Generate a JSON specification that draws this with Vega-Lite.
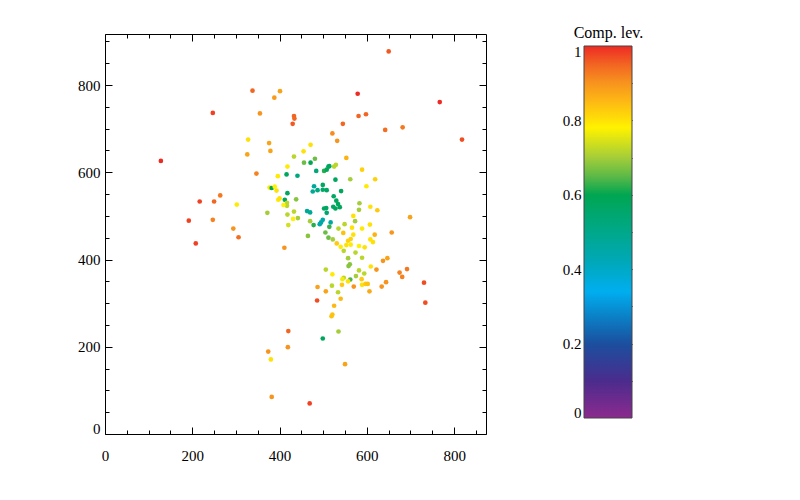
{
  "$schema": "https://vega.github.io/schema/vega-lite/v6.json",
  "padding": {"left": 77, "top": 24, "right": 5, "bottom": 5},
  "background": "white",
  "bounds": "flush",
  "spacing": 98,
  "config": {
    "font": "Liberation Serif",
    "view": {"stroke": null},
    "axis": {"labelFont": "Liberation Serif", "labelFontSize": 15, "labelColor": "black", "tickColor": "black", "tickWidth": 1, "domainColor": "black", "grid": false, "title": null, "zindex": 1}
  },
  "hconcat": [
    {
      "width": 381,
      "height": 400,
      "view": {"stroke": "black", "strokeWidth": 1},
      "data": {"values": [
        {"x":650,"y":877,"c":0.96},{"x":338,"y":787,"c":0.95},{"x":401,"y":786,"c":0.88},{"x":388,"y":771,"c":0.89},
        {"x":579,"y":780,"c":1.0},{"x":767,"y":761,"c":1.0},{"x":247,"y":736,"c":0.98},{"x":355,"y":735,"c":0.9},
        {"x":433,"y":729,"c":0.95},{"x":434,"y":723,"c":0.95},{"x":430,"y":711,"c":0.96},{"x":581,"y":729,"c":0.95},
        {"x":598,"y":733,"c":0.95},{"x":545,"y":711,"c":0.95},{"x":642,"y":697,"c":0.94},{"x":682,"y":703,"c":0.93},
        {"x":818,"y":675,"c":0.97},{"x":521,"y":689,"c":0.91},{"x":532,"y":672,"c":0.9},{"x":328,"y":675,"c":0.8},
        {"x":376,"y":667,"c":0.88},{"x":379,"y":649,"c":0.88},{"x":326,"y":641,"c":0.88},{"x":471,"y":663,"c":0.8},
        {"x":455,"y":648,"c":0.8},{"x":433,"y":636,"c":0.72},{"x":456,"y":622,"c":0.66},{"x":471,"y":622,"c":0.6},
        {"x":481,"y":631,"c":0.66},{"x":553,"y":633,"c":0.86},{"x":128,"y":626,"c":1.0},{"x":347,"y":597,"c":0.92},
        {"x":418,"y":613,"c":0.79},{"x":416,"y":595,"c":0.58},{"x":441,"y":592,"c":0.52},{"x":396,"y":591,"c":0.79},
        {"x":484,"y":603,"c":0.53},{"x":502,"y":603,"c":0.62},{"x":508,"y":606,"c":0.58},{"x":512,"y":613,"c":0.58},
        {"x":514,"y":614,"c":0.58},{"x":525,"y":613,"c":0.72},{"x":529,"y":617,"c":0.72},{"x":589,"y":606,"c":0.82},
        {"x":562,"y":584,"c":0.7},{"x":528,"y":583,"c":0.58},{"x":619,"y":584,"c":0.82},{"x":599,"y":568,"c":0.79},
        {"x":479,"y":568,"c":0.47},{"x":499,"y":571,"c":0.57},{"x":476,"y":556,"c":0.48},{"x":487,"y":559,"c":0.52},
        {"x":499,"y":560,"c":0.56},{"x":508,"y":559,"c":0.57},{"x":541,"y":557,"c":0.58},{"x":377,"y":565,"c":0.79},
        {"x":382,"y":564,"c":0.6},{"x":389,"y":567,"c":0.78},{"x":393,"y":558,"c":0.8},{"x":418,"y":552,"c":0.58},
        {"x":524,"y":545,"c":0.57},{"x":530,"y":535,"c":0.58},{"x":534,"y":527,"c":0.58},{"x":538,"y":520,"c":0.58},
        {"x":528,"y":517,"c":0.58},{"x":523,"y":521,"c":0.57},{"x":438,"y":538,"c":0.68},{"x":264,"y":547,"c":0.93},
        {"x":217,"y":533,"c":0.98},{"x":250,"y":533,"c":0.95},{"x":302,"y":526,"c":0.79},{"x":397,"y":537,"c":0.79},
        {"x":400,"y":540,"c":0.8},{"x":412,"y":537,"c":0.58},{"x":417,"y":530,"c":0.72},{"x":417,"y":523,"c":0.72},
        {"x":409,"y":525,"c":0.78},{"x":502,"y":517,"c":0.57},{"x":507,"y":518,"c":0.57},{"x":508,"y":507,"c":0.55},
        {"x":463,"y":511,"c":0.48},{"x":470,"y":508,"c":0.48},{"x":372,"y":507,"c":0.7},{"x":433,"y":510,"c":0.72},
        {"x":418,"y":503,"c":0.72},{"x":442,"y":495,"c":0.7},{"x":431,"y":493,"c":0.78},{"x":192,"y":489,"c":0.98},
        {"x":247,"y":491,"c":0.92},{"x":420,"y":479,"c":0.74},{"x":470,"y":488,"c":0.7},{"x":478,"y":479,"c":0.62},
        {"x":499,"y":491,"c":0.45},{"x":495,"y":485,"c":0.45},{"x":492,"y":481,"c":0.45},{"x":517,"y":485,"c":0.46},
        {"x":514,"y":475,"c":0.63},{"x":549,"y":481,"c":0.72},{"x":569,"y":500,"c":0.8},{"x":573,"y":488,"c":0.7},
        {"x":582,"y":514,"c":0.7},{"x":583,"y":529,"c":0.7},{"x":608,"y":521,"c":0.8},{"x":624,"y":513,"c":0.83},
        {"x":699,"y":497,"c":0.88},{"x":607,"y":480,"c":0.8},{"x":589,"y":471,"c":0.79},{"x":566,"y":473,"c":0.8},
        {"x":535,"y":471,"c":0.72},{"x":546,"y":461,"c":0.84},{"x":569,"y":457,"c":0.8},{"x":618,"y":457,"c":0.86},
        {"x":294,"y":471,"c":0.9},{"x":306,"y":451,"c":0.94},{"x":208,"y":437,"c":0.98},{"x":411,"y":427,"c":0.9},
        {"x":505,"y":462,"c":0.66},{"x":512,"y":450,"c":0.66},{"x":522,"y":446,"c":0.7},{"x":531,"y":437,"c":0.83},
        {"x":540,"y":429,"c":0.79},{"x":547,"y":420,"c":0.72},{"x":553,"y":433,"c":0.8},{"x":557,"y":443,"c":0.82},
        {"x":563,"y":447,"c":0.82},{"x":563,"y":434,"c":0.79},{"x":657,"y":462,"c":0.9},{"x":608,"y":446,"c":0.8},
        {"x":614,"y":440,"c":0.8},{"x":574,"y":416,"c":0.72},{"x":582,"y":431,"c":0.78},{"x":595,"y":428,"c":0.8},
        {"x":589,"y":404,"c":0.72},{"x":557,"y":403,"c":0.7},{"x":561,"y":389,"c":0.68},{"x":558,"y":385,"c":0.68},
        {"x":609,"y":384,"c":0.8},{"x":637,"y":397,"c":0.9},{"x":647,"y":403,"c":0.88},{"x":622,"y":377,"c":0.9},
        {"x":675,"y":370,"c":0.92},{"x":692,"y":378,"c":0.93},{"x":681,"y":360,"c":0.92},{"x":731,"y":347,"c":0.97},
        {"x":734,"y":301,"c":0.97},{"x":506,"y":377,"c":0.72},{"x":521,"y":366,"c":0.79},{"x":582,"y":375,"c":0.72},
        {"x":594,"y":368,"c":0.72},{"x":575,"y":362,"c":0.7},{"x":562,"y":354,"c":0.64},{"x":557,"y":350,"c":0.8},
        {"x":547,"y":358,"c":0.72},{"x":544,"y":355,"c":0.77},{"x":543,"y":342,"c":0.83},{"x":520,"y":340,"c":0.72},
        {"x":588,"y":355,"c":0.83},{"x":589,"y":342,"c":0.8},{"x":597,"y":344,"c":0.83},{"x":602,"y":344,"c":0.84},
        {"x":606,"y":327,"c":0.87},{"x":634,"y":338,"c":0.9},{"x":644,"y":348,"c":0.9},{"x":570,"y":338,"c":0.9},
        {"x":487,"y":337,"c":0.88},{"x":506,"y":327,"c":0.88},{"x":534,"y":325,"c":0.72},{"x":540,"y":310,"c":0.85},
        {"x":525,"y":294,"c":0.85},{"x":521,"y":274,"c":0.84},{"x":519,"y":270,"c":0.84},{"x":486,"y":306,"c":0.97},
        {"x":420,"y":236,"c":0.95},{"x":535,"y":235,"c":0.7},{"x":499,"y":219,"c":0.58},{"x":419,"y":199,"c":0.9},
        {"x":374,"y":189,"c":0.9},{"x":380,"y":171,"c":0.8},{"x":550,"y":160,"c":0.88},{"x":382,"y":85,"c":0.9},
        {"x":469,"y":70,"c":0.98},{"x":465,"y":454,"c":0.68}
      ]},
      "layer": [
        {
          "mark": {"type": "circle", "size": 22, "opacity": 1},
          "encoding": {
            "x": {"field": "x", "type": "quantitative", "scale": {"domain": [0, 873], "nice": false, "zero": false},
                  "axis": {"orient": "bottom", "values": [0, 200, 400, 600, 800], "offset": -7, "tickSize": 7, "domain": false, "labelPadding": 14, "labelFlush": false}},
            "y": {"field": "y", "type": "quantitative", "scale": {"domain": [0, 917], "nice": false, "zero": false},
                  "axis": {"orient": "left", "values": [0, 200, 400, 600, 800], "offset": -7, "tickSize": 7, "domain": false, "labelPadding": 5, "labelFlush": true, "labelFlushOffset": 2}},
            "color": {"field": "c", "type": "quantitative", "legend": null,
                      "scale": {"domain": [0, 0.1, 0.2, 0.27, 0.34, 0.42, 0.5, 0.6, 0.65, 0.7, 0.78, 0.85, 0.9, 0.95, 1],
                                "range": ["#8C2A8E", "#4A2C8D", "#1B4F9F", "#0B7FC5", "#00AEEF", "#00A8B8", "#00A88A", "#00A651", "#5DB947", "#A4CD39", "#FFF200", "#FDB913", "#F7941D", "#F26522", "#EE2A24"],
                                "interpolate": "rgb"}}
          }
        },
        {
          "mark": {"type": "circle", "opacity": 0},
          "encoding": {
            "x": {"field": "x", "type": "quantitative", "axis": {"orient": "bottom", "values": [50, 100, 150, 250, 300, 350, 450, 500, 550, 650, 700, 750, 850], "offset": -4, "tickSize": 4, "domain": false, "labels": false}},
            "y": {"field": "y", "type": "quantitative", "axis": {"orient": "left", "values": [50, 100, 150, 250, 300, 350, 450, 500, 550, 650, 700, 750, 850, 900], "offset": -4, "tickSize": 4, "domain": false, "labels": false}}
          }
        },
        {
          "mark": {"type": "circle", "opacity": 0},
          "encoding": {
            "x": {"field": "x", "type": "quantitative", "axis": {"orient": "top", "values": [0, 200, 400, 600, 800], "offset": -7, "tickSize": 7, "domain": false, "labels": false}},
            "y": {"field": "y", "type": "quantitative", "axis": {"orient": "right", "values": [0, 200, 400, 600, 800], "offset": -7, "tickSize": 7, "domain": false, "labels": false}}
          }
        },
        {
          "mark": {"type": "circle", "opacity": 0},
          "encoding": {
            "x": {"field": "x", "type": "quantitative", "axis": {"orient": "top", "values": [50, 100, 150, 250, 300, 350, 450, 500, 550, 650, 700, 750, 850], "offset": -4, "tickSize": 4, "domain": false, "labels": false}},
            "y": {"field": "y", "type": "quantitative", "axis": {"orient": "right", "values": [50, 100, 150, 250, 300, 350, 450, 500, 550, 650, 700, 750, 850, 900], "offset": -4, "tickSize": 4, "domain": false, "labels": false}}
          }
        }
      ],
      "resolve": {"axis": {"x": "independent", "y": "independent"}}
    },
    {
      "width": 48,
      "height": 384,
      "view": {"stroke": null},
      "data": {"values": [{"lo": 0, "hi": 1, "left": 0, "right": 1}]},
      "layer": [
        {
          "mark": {"type": "rect", "stroke": "#444444", "strokeWidth": 1,
                   "fill": {"gradient": "linear", "x1": 0, "y1": 1, "x2": 0, "y2": 0,
                            "stops": [
                              {"offset": 0, "color": "#8C2A8E"}, {"offset": 0.1, "color": "#4A2C8D"}, {"offset": 0.2, "color": "#1B4F9F"},
                              {"offset": 0.27, "color": "#0B7FC5"}, {"offset": 0.34, "color": "#00AEEF"}, {"offset": 0.42, "color": "#00A8B8"},
                              {"offset": 0.5, "color": "#00A88A"}, {"offset": 0.6, "color": "#00A651"}, {"offset": 0.65, "color": "#5DB947"},
                              {"offset": 0.7, "color": "#A4CD39"}, {"offset": 0.78, "color": "#FFF200"}, {"offset": 0.85, "color": "#FDB913"},
                              {"offset": 0.9, "color": "#F7941D"}, {"offset": 0.95, "color": "#F26522"}, {"offset": 1, "color": "#EE2A24"}
                            ]}},
          "encoding": {
            "x": {"field": "left", "type": "quantitative", "scale": {"domain": [0, 1], "nice": false, "zero": false},
                  "axis": {"orient": "top", "title": "Comp. lev.", "labels": false, "ticks": false, "domain": false,
                           "titleFont": "Liberation Serif", "titleFontSize": 16, "titleFontWeight": "normal", "titleColor": "black",
                           "titleX": 24, "titleY": 3.5, "titleAlign": "center", "titleBaseline": "alphabetic", "titleAngle": 0}},
            "x2": {"field": "right"},
            "y": {"field": "lo", "type": "quantitative", "scale": {"domain": [0, 1.0323], "nice": false, "zero": false},
                  "axis": {"orient": "left", "values": [0, 0.2, 0.4, 0.6, 0.8, 1], "format": "~g", "ticks": false, "domain": false, "labelPadding": 3, "labelFlush": 13, "labelFlushOffset": 2}},
            "y2": {"field": "hi"}
          }
        },
        {
          "mark": {"type": "rect", "opacity": 0},
          "encoding": {
            "x": {"field": "left", "type": "quantitative"},
            "x2": {"field": "right"},
            "y": {"field": "lo", "type": "quantitative", "axis": {"orient": "left", "values": [0.2, 0.4, 0.6, 0.8], "offset": -9, "tickSize": 9, "domain": false, "labels": false}},
            "y2": {"field": "hi"}
          }
        },
        {
          "mark": {"type": "rect", "opacity": 0},
          "encoding": {
            "x": {"field": "left", "type": "quantitative"},
            "x2": {"field": "right"},
            "y": {"field": "lo", "type": "quantitative", "axis": {"orient": "left", "values": [0.1, 0.3, 0.5, 0.7, 0.9], "offset": -5, "tickSize": 5, "domain": false, "labels": false}},
            "y2": {"field": "hi"}
          }
        },
        {
          "mark": {"type": "rect", "opacity": 0},
          "encoding": {
            "x": {"field": "left", "type": "quantitative"},
            "x2": {"field": "right"},
            "y": {"field": "lo", "type": "quantitative", "axis": {"orient": "right", "values": [0.2, 0.4, 0.6, 0.8], "offset": -9, "tickSize": 9, "domain": false, "labels": false}},
            "y2": {"field": "hi"}
          }
        },
        {
          "mark": {"type": "rect", "opacity": 0},
          "encoding": {
            "x": {"field": "left", "type": "quantitative"},
            "x2": {"field": "right"},
            "y": {"field": "lo", "type": "quantitative", "axis": {"orient": "right", "values": [0.1, 0.3, 0.5, 0.7, 0.9], "offset": -5, "tickSize": 5, "domain": false, "labels": false}},
            "y2": {"field": "hi"}
          }
        }
      ],
      "resolve": {"axis": {"y": "independent"}}
    }
  ]
}
